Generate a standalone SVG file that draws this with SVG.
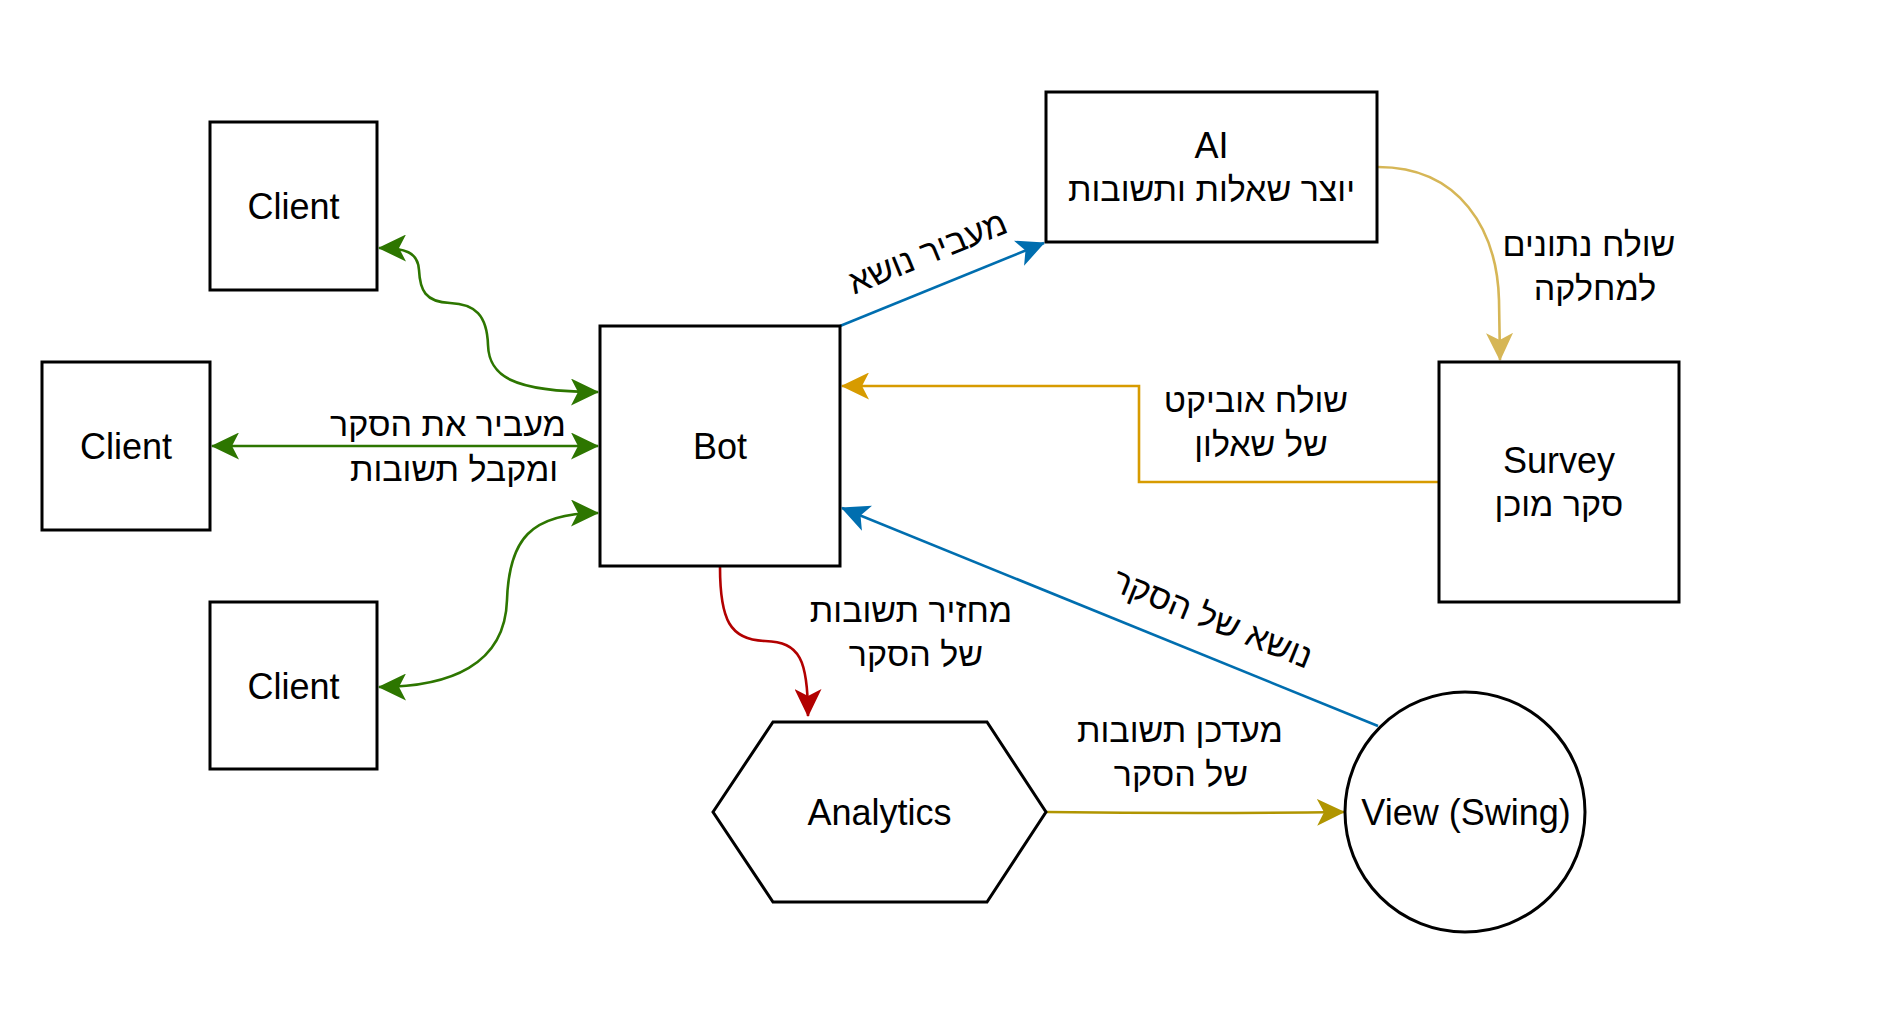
<svg xmlns="http://www.w3.org/2000/svg" width="1900" height="1028" viewBox="0 0 1900 1028">
<style>
.node{fill:#fff;stroke:#000;stroke-width:3}
.lbl{font-family:"Liberation Sans","DejaVu Sans",Arial,sans-serif;font-size:34px;fill:#000;text-anchor:middle}
.lat{font-size:36px}
.e{fill:none;stroke-width:2.6}
</style>
<defs>
<marker id="mg" markerUnits="userSpaceOnUse" viewBox="0 0 28 27" markerWidth="28" markerHeight="27" refX="27" refY="13.5" orient="auto-start-reverse"><path d="M0,0 L28,13.5 L0,27 L7,13.5 Z" fill="#2D7600"/></marker>
<marker id="mb" markerUnits="userSpaceOnUse" viewBox="0 0 28 27" markerWidth="28" markerHeight="27" refX="27" refY="13.5" orient="auto-start-reverse"><path d="M0,0 L28,13.5 L0,27 L7,13.5 Z" fill="#006EAF"/></marker>
<marker id="mt" markerUnits="userSpaceOnUse" viewBox="0 0 28 27" markerWidth="28" markerHeight="27" refX="27" refY="13.5" orient="auto-start-reverse"><path d="M0,0 L28,13.5 L0,27 L7,13.5 Z" fill="#D6B656"/></marker>
<marker id="mo" markerUnits="userSpaceOnUse" viewBox="0 0 28 27" markerWidth="28" markerHeight="27" refX="27" refY="13.5" orient="auto-start-reverse"><path d="M0,0 L28,13.5 L0,27 L7,13.5 Z" fill="#D79B00"/></marker>
<marker id="mr" markerUnits="userSpaceOnUse" viewBox="0 0 28 27" markerWidth="28" markerHeight="27" refX="27" refY="13.5" orient="auto-start-reverse"><path d="M0,0 L28,13.5 L0,27 L7,13.5 Z" fill="#B20000"/></marker>
<marker id="ml" markerUnits="userSpaceOnUse" viewBox="0 0 28 27" markerWidth="28" markerHeight="27" refX="27" refY="13.5" orient="auto-start-reverse"><path d="M0,0 L28,13.5 L0,27 L7,13.5 Z" fill="#B09500"/></marker>
</defs>
<rect width="1900" height="1028" fill="#fff"/>

<g id="connectors">
  <path class="e" stroke="#2D7600" marker-start="url(#mg)" marker-end="url(#mg)" d="M 379 248 C 405 248, 418 252, 419 270 C 420 290, 425 302, 450 303 C 475 304, 487 315, 488 345 C 489 375, 510 392, 598 392"/>
  <path class="e" stroke="#2D7600" marker-start="url(#mg)" marker-end="url(#mg)" d="M 212 446 L 598 446"/>
  <path class="e" stroke="#2D7600" marker-start="url(#mg)" marker-end="url(#mg)" d="M 379 687 C 450 687, 505 665, 507 600 C 509 540, 530 513, 598 513"/>
  <path class="e" stroke="#006EAF" marker-end="url(#mb)" d="M 840 326 L 1044 243"/>
  <path class="e" stroke="#D6B656" marker-end="url(#mt)" d="M 1378 167 C 1460 167, 1497 230, 1499 300 L 1500 360"/>
  <path class="e" stroke="#D79B00" marker-end="url(#mo)" d="M 1439 482 L 1139 482 L 1139 386 L 842 386"/>
  <path class="e" stroke="#006EAF" marker-end="url(#mb)" d="M 1378 726 L 842 508"/>
  <path class="e" stroke="#B20000" marker-end="url(#mr)" d="M 720 567 C 720 620, 730 640, 765 641 C 800 642, 808 660, 808 716"/>
  <path class="e" stroke="#B09500" marker-end="url(#ml)" d="M 1047 812 Q 1200 814 1344 812"/>
  <path class="e" stroke="#001DBC" stroke-dasharray="8 6" d="M 839 327 C 810 370, 787 400, 787 423 C 787 445, 810 470, 839 507"/>
  <text class="lbl" x="448" y="436">מעביר את הסקר</text>
  <text class="lbl" x="454" y="481">ומקבל תשובות</text>
  <text class="lbl" transform="translate(928,254) rotate(-22)" x="0" y="10">מעביר נושא</text>
  <text class="lbl" x="1589" y="256">שולח נתונים</text>
  <text class="lbl" x="1595" y="300">למחלקה</text>
  <text class="lbl" x="1256" y="412">שולח אוביקט</text>
  <text class="lbl" x="1261" y="456">של שאלון</text>
  <text class="lbl" x="911" y="622">מחזיר תשובות</text>
  <text class="lbl" x="916" y="666">של הסקר</text>
  <text class="lbl" transform="translate(1212,620) rotate(22)" x="0" y="10">נושא של הסקר</text>
  <text class="lbl" x="1180" y="742">מעדכן תשובות</text>
  <text class="lbl" x="1181" y="786">של הסקר</text>
</g>

<g id="client1"><rect class="node" x="210" y="122" width="167" height="168"/><text class="lbl lat" x="293.5" y="219">Client</text></g>
<g id="client2"><rect class="node" x="42" y="362" width="168" height="168"/><text class="lbl lat" x="126" y="459">Client</text></g>
<g id="client3"><rect class="node" x="210" y="602" width="167" height="167"/><text class="lbl lat" x="293.5" y="699">Client</text></g>
<g id="bot"><rect class="node" x="600" y="326" width="240" height="240"/><text class="lbl lat" x="720" y="459">Bot</text></g>
<g id="ai"><rect class="node" x="1046" y="92" width="331" height="150"/><text class="lbl lat" x="1211.5" y="158">AI</text><text class="lbl" x="1211.5" y="201">יוצר שאלות ותשובות</text></g>
<g id="survey"><rect class="node" x="1439" y="362" width="240" height="240"/><text class="lbl lat" x="1559" y="473">Survey</text><text class="lbl" x="1559" y="516">סקר מוכן</text></g>
<g id="analytics"><polygon class="node" stroke-width="2.6" points="713,812 773,722 987,722 1046,812 987,902 773,902"/><text class="lbl lat" x="879.5" y="825">Analytics</text></g>
<g id="view"><circle class="node" stroke-width="2.6" cx="1465" cy="812" r="120"/><text class="lbl lat" x="1466" y="825">View (Swing)</text></g>
</svg>
